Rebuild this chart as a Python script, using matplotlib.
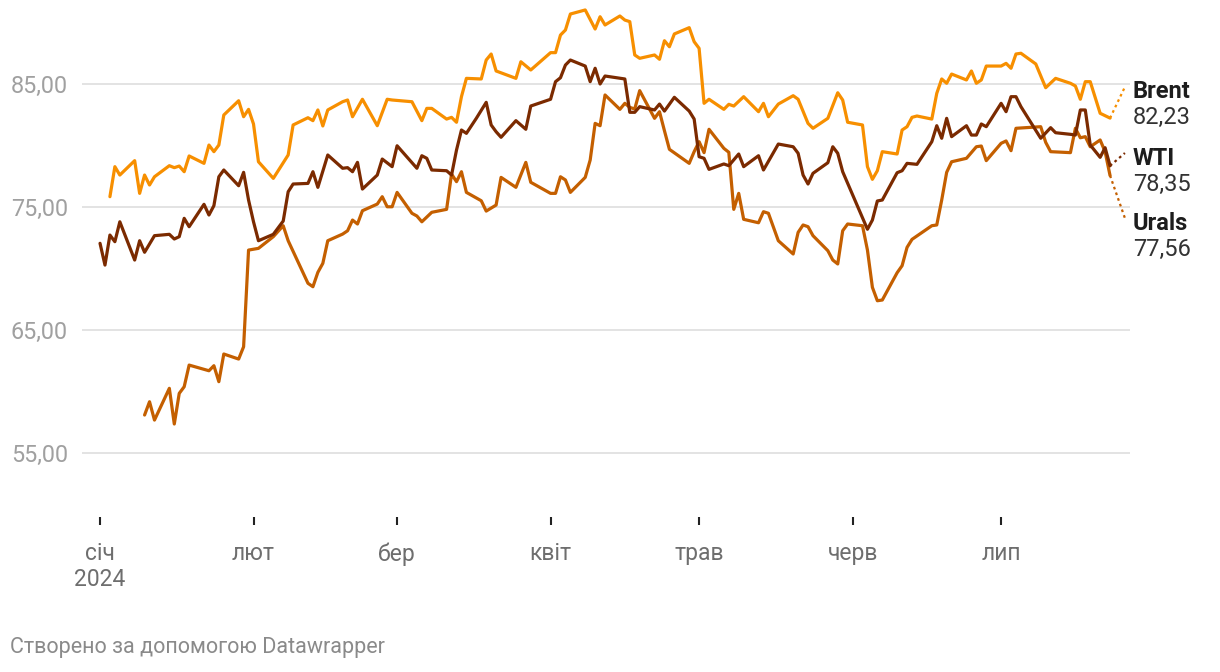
import matplotlib
matplotlib.use("Agg")
import matplotlib.pyplot as plt
import pandas as pd

YEAR = "2024"

brent_dates = ["01-03","01-04","01-05","01-08","01-09","01-10","01-11","01-12","01-15","01-16",
               "01-17","01-18","01-19","01-22","01-23","01-24","01-25","01-26","01-29","01-30",
               "01-31","02-01","02-02","02-05","02-08","02-09","02-12","02-13","02-14","02-15",
               "02-16","02-19","02-20","02-21","02-23","02-26","02-28","02-29","03-04","03-06",
               "03-07","03-08","03-11","03-12","03-13","03-14","03-15","03-18","03-19","03-20",
               "03-21","03-25","03-26","03-28","04-01","04-02","04-03","04-04","04-05","04-08",
               "04-10","04-11","04-12","04-15","04-16","04-17","04-18","04-19","04-22","04-23",
               "04-24","04-25","04-26","04-29","04-30","05-01","05-02","05-03","05-06","05-07",
               "05-08","05-10","05-13","05-14","05-15","05-17","05-20","05-21","05-23","05-24",
               "05-27","05-29","05-30","05-31","06-03","06-04","06-05","06-06","06-07","06-10",
               "06-11","06-12","06-13","06-14","06-17","06-18","06-19","06-20","06-21","06-24",
               "06-25","06-26","06-27","06-28","07-01","07-02","07-03","07-04","07-05","07-08",
               "07-10","07-12","07-15","07-16","07-17","07-18","07-19","07-21","07-23"]
brent_values = [75.84,78.28,77.60,78.77,76.11,77.60,76.79,77.46,78.36,78.20,
                78.33,77.87,79.15,78.55,80.04,79.50,80.04,82.48,83.64,82.34,
                82.94,81.75,78.68,77.33,79.23,81.67,82.26,82.02,82.89,81.59,
                82.89,83.56,83.70,82.34,83.76,81.61,83.76,83.70,83.56,82.02,
                83.02,83.02,82.15,82.29,81.89,83.97,85.46,85.41,86.95,87.44,
                86.06,85.46,86.81,86.14,87.55,87.55,88.98,89.39,90.69,91.02,
                89.47,90.47,89.80,90.53,90.20,90.07,87.36,87.09,87.36,87.01,
                88.52,88.03,89.07,89.58,88.44,87.90,83.43,83.76,82.94,83.35,
                83.21,83.97,82.75,83.43,82.34,83.37,84.05,83.76,81.80,81.40,
                82.21,84.29,83.70,81.89,81.67,78.28,77.25,77.95,79.50,79.31,
                81.26,81.53,82.29,82.40,82.15,84.24,85.41,85.06,85.81,85.33,
                86.06,85.06,85.33,86.46,86.46,86.68,86.28,87.44,87.50,86.63,
                84.70,85.46,85.06,84.84,83.76,85.19,85.19,82.62,82.23]

wti_dates = ["01-01","01-02","01-03","01-04","01-05","01-08","01-09","01-10","01-12","01-15",
             "01-16","01-17","01-18","01-19","01-22","01-23","01-24","01-25","01-26","01-29",
             "01-30","01-31","02-01","02-02","02-05","02-07","02-08","02-09","02-12","02-13",
             "02-14","02-16","02-19","02-20","02-21","02-22","02-23","02-26","02-27","02-29",
             "03-01","03-05","03-06","03-07","03-08","03-11","03-12","03-13","03-14","03-15",
             "03-17","03-19","03-20","03-21","03-22","03-25","03-27","03-28","04-01","04-02",
             "04-03","04-04","04-05","04-08","04-09","04-10","04-11","04-12","04-16","04-17",
             "04-18","04-19","04-22","04-23","04-24","04-26","04-29","04-30","05-01","05-02",
             "05-03","05-06","05-07","05-09","05-10","05-13","05-14","05-17","05-20","05-21",
             "05-22","05-23","05-24","05-27","05-28","05-29","05-30","06-04","06-05","06-06",
             "06-07","06-10","06-11","06-12","06-14","06-17","06-18","06-19","06-20","06-21",
             "06-24","06-25","06-26","06-27","06-28","07-01","07-02","07-03","07-04","07-05",
             "07-09","07-11","07-12","07-15","07-16","07-17","07-18","07-19","07-21","07-22",
             "07-23"]
wti_values = [72.05,70.28,72.72,72.18,73.80,70.69,72.26,71.32,72.67,72.78,
              72.40,72.59,74.08,73.40,75.22,74.35,75.11,77.46,78.01,76.73,
              77.82,75.57,73.80,72.26,72.78,73.86,76.24,76.87,76.92,77.87,
              76.60,79.23,78.15,78.20,77.87,78.63,76.46,77.60,78.90,78.28,
              79.98,78.15,79.17,78.96,78.01,77.95,77.60,79.63,81.26,80.99,
              82.21,83.51,81.67,81.12,80.67,82.02,81.32,83.21,83.76,85.19,
              85.51,86.54,86.95,86.46,85.19,86.28,85.00,85.65,85.41,82.70,
              82.70,83.16,82.89,83.37,82.80,83.92,82.80,82.15,79.09,78.96,
              78.06,78.50,78.36,79.31,78.28,79.17,78.01,80.12,79.90,79.37,
              77.60,76.87,77.74,78.60,79.90,79.37,77.87,73.19,73.94,75.49,
              75.57,77.79,77.95,78.55,78.47,80.31,81.61,80.59,82.21,80.72,
              81.61,80.85,80.85,81.75,81.53,83.43,82.75,83.97,83.97,83.16,
              80.59,81.45,81.04,80.91,80.85,82.89,82.89,80.04,79.04,79.82,
              78.35]

urals_dates = ["01-10","01-11","01-12","01-15","01-16","01-17","01-18","01-19","01-23","01-24",
               "01-25","01-26","01-29","01-30","01-31","02-02","02-05","02-07","02-08","02-12",
               "02-13","02-14","02-15","02-16","02-19","02-20","02-21","02-22","02-23","02-26",
               "02-27","02-28","02-29","03-01","03-04","03-05","03-06","03-08","03-11","03-12",
               "03-13","03-14","03-15","03-18","03-19","03-21","03-22","03-25","03-27","03-28",
               "04-01","04-02","04-03","04-04","04-05","04-08","04-09","04-10","04-11","04-12",
               "04-15","04-16","04-17","04-18","04-19","04-22","04-23","04-24","04-25","04-29",
               "04-30","05-01","05-02","05-03","05-06","05-07","05-08","05-09","05-10","05-13",
               "05-14","05-15","05-17","05-20","05-21","05-22","05-23","05-24","05-27","05-28",
               "05-29","05-30","05-31","06-03","06-04","06-05","06-06","06-07","06-10","06-11",
               "06-12","06-13","06-17","06-18","06-19","06-20","06-21","06-24","06-26","06-27",
               "06-28","07-01","07-02","07-03","07-04","07-09","07-10","07-11","07-15","07-16",
               "07-17","07-18","07-19","07-21","07-22","07-23"]
urals_values = [58.09,59.17,57.68,60.26,57.36,59.85,60.39,62.15,61.69,62.10,
                60.80,63.05,62.64,63.64,71.50,71.64,72.59,73.48,72.26,68.80,
                68.52,69.69,70.42,72.26,72.80,73.07,73.94,73.62,74.70,75.24,
                75.84,75.02,75.02,76.19,74.49,74.27,73.80,74.57,74.81,77.68,
                77.06,77.87,76.19,75.51,74.67,75.16,77.41,76.60,78.63,77.01,
                76.11,76.11,77.46,77.20,76.19,77.41,78.82,81.80,81.61,84.11,
                82.94,83.43,83.10,82.97,84.46,82.21,82.75,81.20,79.69,78.55,
                79.50,80.31,79.42,81.32,79.77,79.45,74.81,76.11,74.00,73.72,
                74.62,74.49,72.26,71.18,72.94,73.54,73.40,72.67,71.45,70.69,
                70.37,73.07,73.62,73.48,71.50,68.47,67.38,67.44,69.66,70.23,
                71.72,72.37,73.48,73.54,75.57,77.82,78.68,78.96,79.90,79.96,
                78.77,80.18,80.37,79.58,81.40,81.53,80.26,79.50,79.42,81.40,
                80.63,80.72,79.90,80.45,79.50,77.56]

series_names = ["Brent", "WTI", "Urals"]
last_labels = ["82,23", "78,35", "77,56"]

month_ticks = ["01-01", "02-01", "03-01", "04-01", "05-01", "06-01", "07-01"]
month_labels = ["січ\n2024", "лют", "бер", "квіт", "трав", "черв", "лип"]
y_ticks = [55, 65, 75, 85]
y_labels = ["55,00", "65,00", "75,00", "85,00"]
footer = "Створено за допомогою Datawrapper"

# ---- styling ----
colors = {"Brent": "#f78f00", "WTI": "#7b2a00", "Urals": "#c45f00"}
label_anchor_date = "07-26"
label_anchor_y = {"Brent": 84.76, "WTI": 79.39, "Urals": 74.10}

plt.rcParams['font.family'] = ['Roboto', 'DejaVu Sans']

W, H = 1220, 672
fig = plt.figure(figsize=(W / 100, H / 100), dpi=100)
ax = fig.add_axes([82 / W, (H - 517) / H, (1130 - 82) / W, 517 / H])

def to_dt(lst):
    return pd.to_datetime([YEAR + "-" + d for d in lst])

data = {
    "Brent": (to_dt(brent_dates), brent_values),
    "WTI": (to_dt(wti_dates), wti_values),
    "Urals": (to_dt(urals_dates), urals_values),
}

order = ["Urals", "Brent", "WTI"]
for name in order:
    x, y = data[name]
    ax.plot(x, y, color=colors[name], lw=2.3, solid_joinstyle="round",
            solid_capstyle="round", zorder=3)

anchor_dt = pd.Timestamp(YEAR + "-" + label_anchor_date)
for name, val in zip(series_names, last_labels):
    x, y = data[name]
    ax.plot([x[-1], anchor_dt], [y[-1], label_anchor_y[name]], color=colors[name],
            lw=1.6, linestyle=(0, (1.2, 1.5)), zorder=2, clip_on=False)
    ax.annotate(name, xy=(anchor_dt, label_anchor_y[name]), xytext=(8, -5),
                textcoords="offset pixels", ha="left", va="center",
                fontsize=17, fontweight="bold", color="#1d1d1d", annotation_clip=False)
    ax.annotate(val, xy=(anchor_dt, label_anchor_y[name]), xytext=(8, -31),
                textcoords="offset pixels", ha="left", va="center",
                fontsize=17, color="#333333", annotation_clip=False)

start = pd.Timestamp(YEAR + "-01-01")
ax.set_xlim(start - pd.Timedelta(days=3.64), start + pd.Timedelta(days=208.03))
ax.set_ylim(49.80, 91.83)

ax.set_yticks(y_ticks)
ax.set_yticklabels(y_labels)
ax.set_xticks(to_dt(month_ticks))
ax.set_xticklabels(month_labels, linespacing=1.15)

ax.grid(axis="y", color="#e3e3e3", lw=1.4, zorder=0)
ax.grid(axis="x", visible=False)
for s in ax.spines.values():
    s.set_visible(False)

ax.tick_params(axis="y", length=0, pad=10, labelsize=16.8, labelcolor="#a0a0a0")
ax.tick_params(axis="x", length=5.8, width=1.5, color="#222222", pad=12.5,
               labelsize=16.5, labelcolor="#6e6e6e")

fig.text(10 / W, 1 - 648 / H, footer, ha="left", va="center", fontsize=15.5, color="#8a8a8a")

fig.savefig("out.png", dpi=100)
